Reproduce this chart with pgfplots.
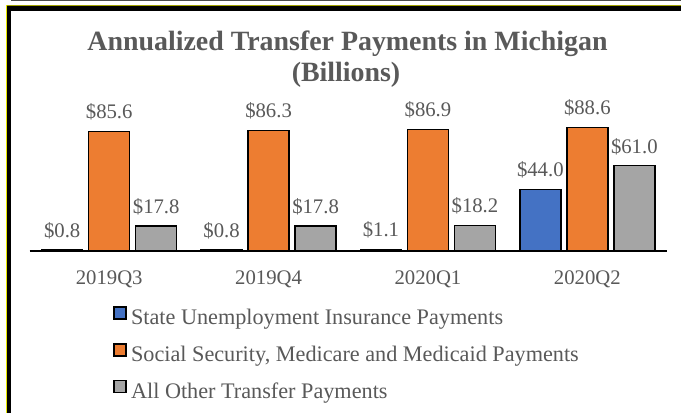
\documentclass[border=0pt]{standalone}
\usepackage{fontspec}
\setmainfont{Liberation Serif}
\usepackage{pgfplots}
\pgfplotsset{compat=1.18}

\definecolor{sblue}{HTML}{4472C4}
\definecolor{sorange}{HTML}{ED7D31}
\definecolor{sgray}{HTML}{A5A5A5}
\definecolor{txt}{HTML}{595959}
\definecolor{frameyel}{HTML}{E8E800}

\begin{document}
\begin{tikzpicture}[x=1bp,y=1bp]
\useasboundingbox (0,0) rectangle (681,413);
\fill[white] (0,0) rectangle (681,413);

% frame (cropped screenshot border)
\fill[black!70] (11,411.5) rectangle (681,413);
\fill[black] (7,0) rectangle (11,407);
\fill[black] (7,402) rectangle (681,408);
\fill[frameyel] (6,0) rectangle (7,408);
\fill[frameyel!70!black] (7,406.5) rectangle (681,407.5);

% title
\node[anchor=base, font=\bfseries\fontsize{28}{30}\selectfont, text=txt]
  at (347.5,363) {Annualized Transfer Payments in Michigan};
\node[anchor=base, font=\bfseries\fontsize{28}{30}\selectfont, text=txt]
  at (346,332) {(Billions)};

\begin{axis}[
    at={(109.2bp,162bp)}, anchor=origin,
    scale only axis,
    width=637.5bp, height=139.7bp,
    xmin=-0.5, xmax=3.5,
    ymin=0, ymax=100,
    axis x line*=bottom,
    axis y line=none,
    ytick=\empty,
    xtick={0,1,2,3},
    xticklabels={2019Q3,2019Q4,2020Q1,2020Q2},
    major tick length=0pt,
    x axis line style={black, line width=1.6bp},
    xticklabel style={anchor=base, yshift=-33bp, text=txt,
        font=\fontsize{20.8}{22}\selectfont},
    ybar, bar width=41bp,
    /pgf/number format/assume math mode=true,
    nodes near coords={\$\pgfmathprintnumber[fixed,fixed zerofill,precision=1]{\pgfplotspointmeta}},
    every node near coord/.append style={text=txt, inner sep=0pt, yshift=10.5bp,
        font=\fontsize{20.8}{22}\selectfont},
    legend style={at={(0.1314,-0.394)}, anchor=north west, draw=none, fill=none,
        inner sep=0pt, row sep=13.5bp, column sep=4bp,
        nodes={inner sep=0pt, text height=15bp, text depth=5bp, text=txt,
            font=\fontsize{22.3}{24}\selectfont}},
    legend cell align=left,
    legend image code/.code={\draw[#1, line width=1.6bp] (0bp,0.5bp) rectangle (12bp,12.5bp);},
]
\addplot[fill=sblue, draw=black, line width=1.4bp, bar shift=-47bp]
  coordinates {(0,0.8) (1,0.8) (2,1.1) (3,44.0)};
\addlegendentry{State Unemployment Insurance Payments}
\addplot[fill=sorange, draw=black, line width=1.4bp, bar shift=0bp]
  coordinates {(0,85.6) (1,86.3) (2,86.9) (3,88.6)};
\addlegendentry{Social Security, Medicare and Medicaid Payments}
\addplot[fill=sgray, draw=black, line width=1.4bp, bar shift=47bp]
  coordinates {(0,17.8) (1,17.8) (2,18.2) (3,61.0)};
\addlegendentry{All Other Transfer Payments}
\end{axis}
\end{tikzpicture}
\end{document}
